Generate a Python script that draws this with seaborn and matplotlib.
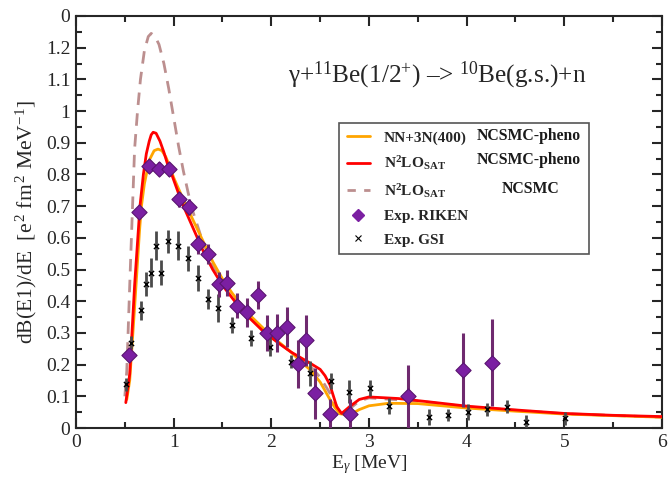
import numpy as np
import pandas as pd
import matplotlib
matplotlib.use('Agg')
import matplotlib.pyplot as plt
import seaborn as sns
from matplotlib.lines import Line2D
from matplotlib.ticker import MultipleLocator

# Theory curves
e_orange = [0.52, 0.55, 0.60, 0.65, 0.67, 0.70, 0.72, 0.75, 0.80, 0.84, 0.88, 0.92, 0.96, 1.00, 1.10, 1.20, 1.30,
            1.40, 1.50, 1.60, 1.70, 1.80, 1.90, 2.00, 2.10, 2.20, 2.30, 2.40, 2.50, 2.60, 2.65, 2.70, 2.80, 2.90,
            3.00, 3.20, 3.50, 4.00, 4.50, 5.00, 5.50, 6.00]
b_orange = [0.09, 0.15, 0.38, 0.62, 0.70, 0.77, 0.80, 0.845, 0.875, 0.88, 0.875, 0.855, 0.825, 0.79, 0.72, 0.655,
            0.59, 0.525, 0.47, 0.425, 0.385, 0.35, 0.32, 0.29, 0.265, 0.24, 0.21, 0.183, 0.145, 0.09, 0.065, 0.045,
            0.041, 0.058, 0.07, 0.078, 0.077, 0.063, 0.053, 0.044, 0.039, 0.034]

e_red = [0.51, 0.55, 0.60, 0.655, 0.69, 0.72, 0.75, 0.77, 0.79, 0.82, 0.86, 0.90, 0.94, 0.98, 1.05, 1.10, 1.20,
         1.30, 1.40, 1.50, 1.60, 1.70, 1.80, 1.90, 2.00, 2.10, 2.20, 2.30, 2.40, 2.50, 2.55, 2.60, 2.67, 2.72,
         2.80, 2.90, 3.00, 3.30, 3.60, 4.00, 4.50, 5.00, 5.50, 6.00]
b_red = [0.08, 0.17, 0.45, 0.70, 0.80, 0.865, 0.905, 0.925, 0.933, 0.93, 0.905, 0.87, 0.83, 0.80, 0.74, 0.70, 0.63,
         0.56, 0.50, 0.45, 0.41, 0.37, 0.34, 0.31, 0.285, 0.262, 0.24, 0.222, 0.204, 0.185, 0.165, 0.136, 0.067,
         0.046, 0.067, 0.09, 0.098, 0.093, 0.083, 0.069, 0.057, 0.046, 0.04, 0.036]

e_dash = [0.50, 0.52, 0.55, 0.60, 0.63, 0.66, 0.70, 0.74, 0.77, 0.81, 0.85, 0.90, 0.95, 1.00, 1.05, 1.10, 1.15,
          1.20, 1.30, 1.40, 1.60, 1.80, 2.00, 2.20, 2.40, 2.50, 2.60, 2.70, 2.75, 2.80, 2.90, 3.00, 3.50, 4.00,
          5.00, 6.00]
b_dash = [0.10, 0.18, 0.45, 0.88, 1.00, 1.10, 1.19, 1.235, 1.245, 1.235, 1.21, 1.15, 1.07, 0.98, 0.89, 0.81, 0.74,
          0.68, 0.585, 0.515, 0.415, 0.345, 0.288, 0.24, 0.195, 0.16, 0.11, 0.05, 0.045, 0.06, 0.085, 0.095, 0.085,
          0.067, 0.045, 0.034]

# Exp. RIKEN
e_riken = [0.54, 0.65, 0.75, 0.85, 0.95, 1.05, 1.16, 1.25, 1.355, 1.46, 1.55, 1.65, 1.75, 1.86, 1.96,
           2.06, 2.16, 2.27, 2.35, 2.45, 2.60, 2.81, 3.40, 3.96, 4.26]
b_riken = [0.231, 0.68, 0.827, 0.818, 0.816, 0.721, 0.697, 0.579, 0.549, 0.453, 0.458, 0.386, 0.365, 0.42, 0.30,
           0.30, 0.32, 0.203, 0.277, 0.109, 0.043, 0.043, 0.10, 0.183, 0.206]
err_riken = [0.02, 0.02, 0.02, 0.02, 0.02, 0.025, 0.025, 0.03, 0.03, 0.04, 0.04, 0.04, 0.045, 0.045, 0.058,
             0.06, 0.063, 0.076, 0.08, 0.08, 0.05, 0.05, 0.10, 0.117, 0.137]

# Exp. GSI
e_gsi = [0.512, 0.563, 0.665, 0.716, 0.768, 0.82, 0.866, 0.94, 1.044, 1.143, 1.245, 1.35, 1.453, 1.60, 1.79,
         1.99, 2.20, 2.40, 2.61, 2.80, 3.01, 3.21, 3.40, 3.61, 3.81, 4.01, 4.21, 4.41, 4.61, 5.01]
b_gsi = [0.138, 0.269, 0.371, 0.454, 0.49, 0.575, 0.49, 0.589, 0.575, 0.535, 0.473, 0.407, 0.378, 0.326, 0.283,
         0.256, 0.209, 0.172, 0.148, 0.115, 0.125, 0.069, 0.105, 0.036, 0.041, 0.051, 0.059, 0.067, 0.02, 0.031]
err_gsi = [0.02, 0.02, 0.03, 0.037, 0.045, 0.045, 0.04, 0.037, 0.045, 0.04, 0.04, 0.03, 0.045, 0.025, 0.025,
           0.03, 0.02, 0.04, 0.025, 0.035, 0.025, 0.025, 0.03, 0.025, 0.02, 0.025, 0.02, 0.02, 0.02, 0.02]

x_ticks = [0, 1, 2, 3, 4, 5, 6]
y_ticks = [0, 0.1, 0.2, 0.3, 0.4, 0.5, 0.6, 0.7, 0.8, 0.9, 1.0, 1.1, 1.2, 1.3]
y_ticklabels = ['0', '0.1', '0.2', '0.3', '0.4', '0.5', '0.6', '0.7', '0.8', '0.9', '1', '1.1', '1.2', '0']

sns.set_style('ticks')
plt.rcParams['font.family'] = ['Liberation Serif', 'DejaVu Serif']
plt.rcParams['mathtext.fontset'] = 'custom'
plt.rcParams['mathtext.rm'] = 'Liberation Serif'
plt.rcParams['mathtext.it'] = 'Liberation Serif:italic'
plt.rcParams['mathtext.bf'] = 'Liberation Serif:bold'

fig = plt.figure(figsize=(6.69, 4.78), dpi=100)
ax = fig.add_axes([0.1136, 0.1046, 0.8759, 0.862])

# Curves
sns.lineplot(x=e_dash, y=b_dash, ax=ax, color='#bc8f8f', lw=2, zorder=2)
ax.lines[-1].set_dashes([4.5, 3])
sns.lineplot(x=e_orange, y=b_orange, ax=ax, color='#ffa500', lw=2, zorder=3)
sns.lineplot(x=e_red, y=b_red, ax=ax, color='#ff0000', lw=2, zorder=4)

# GSI data
ax.errorbar(e_gsi, b_gsi, yerr=err_gsi, fmt='none', ecolor='#4a4a4a', elinewidth=2, capsize=0, zorder=5)
sns.scatterplot(x=e_gsi, y=b_gsi, ax=ax, marker='x', color='black', s=14, linewidth=1, zorder=6)

# RIKEN data
ax.errorbar(e_riken, b_riken, yerr=err_riken, fmt='none', ecolor='#6f2a6f', elinewidth=2.2, capsize=0, zorder=7)
sns.scatterplot(x=e_riken, y=b_riken, ax=ax, marker='D', color='#7b1fa2', edgecolor='#5a1470',
                s=60, linewidth=0.8, zorder=8)

ax.set_xlim(0, 6)
ax.set_ylim(0, 1.3)
ax.set_xticks(x_ticks)
ax.set_xticklabels([str(t) for t in x_ticks])
ax.set_yticks(y_ticks)
ax.set_yticklabels(y_ticklabels)
ax.xaxis.set_minor_locator(MultipleLocator(0.5))
ax.yaxis.set_minor_locator(MultipleLocator(0.05))
ax.tick_params(which='both', direction='in', top=True, right=True, labelsize=14, width=1.5, pad=4)
ax.tick_params(which='major', length=7)
ax.tick_params(which='minor', length=4)
for s in ax.spines.values():
    s.set_linewidth(1.5)

ax.set_xlabel(r'E$_\gamma$ [MeV]', fontsize=14, labelpad=2)
ax.set_ylabel(r'dB(E1)/dE  [e$^{\,2}$ fm$^{\,2}$ MeV$^{-1}$]', fontsize=15.5, labelpad=5)

ax.text(0.362, 0.857, r'γ+$^{11}$Be(1/2$^{+}$) –> $^{10}$Be(g.s.)+n', transform=ax.transAxes,
        fontsize=18.2, ha='left', va='center')

# Legend
handles = [
    Line2D([], [], color='#ffa500', lw=2),
    Line2D([], [], color='#ff0000', lw=2),
    Line2D([], [], color='#bc8f8f', lw=2, dashes=[3, 3]),
    Line2D([], [], ls='none', marker='D', color='#7b1fa2', ms=6),
    Line2D([], [], ls='none', marker='x', color='black', ms=4, mew=0.8),
]
labels = ['NN+3N(400)', r'N$^\mathbf{2}$LO$_\mathbf{SAT}$', r'N$^\mathbf{2}$LO$_\mathbf{SAT}$',
          'Exp. RIKEN', 'Exp. GSI']
leg = ax.legend(handles, labels, loc='upper left', bbox_to_anchor=(0.449, 0.439, 0.426, 0.301), mode='expand',
                frameon=True, fancybox=False, edgecolor='#555555', framealpha=1,
                prop={'weight': 'bold', 'size': 11.1},
                handlelength=1.5, handletextpad=0.9, labelspacing=0.62, borderpad=0.5, borderaxespad=0)
leg.get_frame().set_linewidth(1.2)
leg.set_zorder(10)

for xt, yt, txt in [(0.683, 0.709, 'NCSMC-pheno'), (0.683, 0.650, 'NCSMC-pheno'), (0.727, 0.581, 'NCSMC')]:
    ax.text(xt, yt, txt, transform=ax.transAxes, fontsize=11.3, weight='bold', va='center',
            color='#1a1a1a', zorder=11)

fig.savefig('out.png', dpi=100)
